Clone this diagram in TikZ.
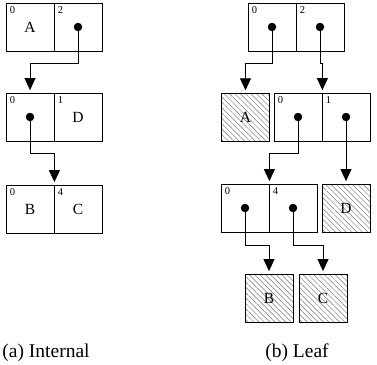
\documentclass[tikz,border=0pt]{standalone}
\usepackage{fontspec}
\setmainfont{Liberation Serif}
\usetikzlibrary{arrows.meta,patterns.meta}
\tikzset{
  cell/.style={draw, line width=0.8pt, minimum width=48pt, minimum height=48pt, inner sep=0pt, font=\fontsize{15.5}{15.5}\selectfont},
  leaf/.style={cell, pattern={Lines[angle=-45,distance=3.8pt,line width=0.45pt]}, pattern color=black!55},
  num/.style={anchor=north west, inner sep=0pt, font=\fontsize{10.5}{10.5}\selectfont},
  ptrdot/.style={circle, fill=black, minimum size=8.5pt, inner sep=0pt},
  ptr/.style={line width=0.8pt, -{Triangle[width=11pt,length=12pt]}, shorten >=2.5pt},
  captext/.style={anchor=base, inner sep=0pt, font=\fontsize{19.5}{19.5}\selectfont}
}
\begin{document}
\begin{tikzpicture}[x=1pt,y=1pt]
\useasboundingbox (0,0) rectangle (377,-364);
% ---------- (a) Internal ----------
\node[cell] (a1l) at (30,-27) {A};
\node[cell] (a1r) at (78,-27) {};
\node[num] (a1ln) at ([shift={(4,-4)}]a1l.north west) {0};
\node[num] (a1rn) at ([shift={(4,-4)}]a1r.north west) {2};
\node[ptrdot] (da1) at (a1r.center) {};

\node[cell] (a2l) at (30,-117) {};
\node[cell] (a2r) at (78,-117) {D};
\node[num] (a2ln) at ([shift={(4,-4)}]a2l.north west) {0};
\node[num] (a2rn) at ([shift={(4,-4)}]a2r.north west) {1};
\node[ptrdot] (da2) at (a2l.center) {};

\node[cell] (a3l) at (30,-209) {B};
\node[cell] (a3r) at (78,-209) {C};
\node[num] (a3ln) at ([shift={(4,-4)}]a3l.north west) {0};
\node[num] (a3rn) at ([shift={(4,-4)}]a3r.north west) {4};

\coordinate (ba1) at (78,-63);
\coordinate (ba2) at (30,-153);
\draw[ptr] (da1.center) -- (ba1) -| (a2l.north);
\draw[ptr] (da2.center) -- (ba2) -| (a3l.north east);

\node[captext] (capa) at (46,-357) {(a) Internal};

% ---------- (b) Leaf ----------
\node[cell] (b1l) at (272,-27) {};
\node[cell] (b1r) at (320,-27) {};
\node[num] (b1ln) at ([shift={(4,-4)}]b1l.north west) {0};
\node[num] (b1rn) at ([shift={(4,-4)}]b1r.north west) {2};
\node[ptrdot] (db1l) at (b1l.center) {};
\node[ptrdot] (db1r) at (b1r.center) {};

\node[leaf] (la) at (245.5,-117) {A};
\node[cell] (b2l) at (298,-117) {};
\node[cell] (b2r) at (346,-117) {};
\node[num] (b2ln) at ([shift={(4,-4)}]b2l.north west) {0};
\node[num] (b2rn) at ([shift={(4,-4)}]b2r.north west) {1};
\node[ptrdot] (db2l) at (b2l.center) {};
\node[ptrdot] (db2r) at (b2r.center) {};

\node[cell] (b3l) at (245,-208) {};
\node[cell] (b3r) at (293,-208) {};
\node[num] (b3ln) at ([shift={(4,-4)}]b3l.north west) {0};
\node[num] (b3rn) at ([shift={(4,-4)}]b3r.north west) {4};
\node[ptrdot] (db3l) at (b3l.center) {};
\node[ptrdot] (db3r) at (b3r.center) {};
\node[leaf] (ld) at (346,-208) {D};

\node[leaf] (lb) at (269,-298) {B};
\node[leaf] (lc) at (323,-298) {C};

\coordinate (bb1) at (272,-63);
\coordinate (bb2) at (320,-63);
\coordinate (bb3) at (298,-153);
\coordinate (bb4) at (245,-245);
\coordinate (bb5) at (293,-245);
\draw[ptr] (db1l.center) -- (bb1) -| (la.north);
\draw[ptr] (db1r.center) -- (bb2) -| (b2l.north east);
\draw[ptr] (db2l.center) -- (bb3) -| (b3l.north east);
\draw[ptr] (db2r.center) -- (ld.north);
\draw[ptr] (db3l.center) -- (bb4) -| (lb.north);
\draw[ptr] (db3r.center) -- (bb5) -| (lc.north);

\node[captext] (capb) at (297,-357) {(b) Leaf};
\end{tikzpicture}
\end{document}
